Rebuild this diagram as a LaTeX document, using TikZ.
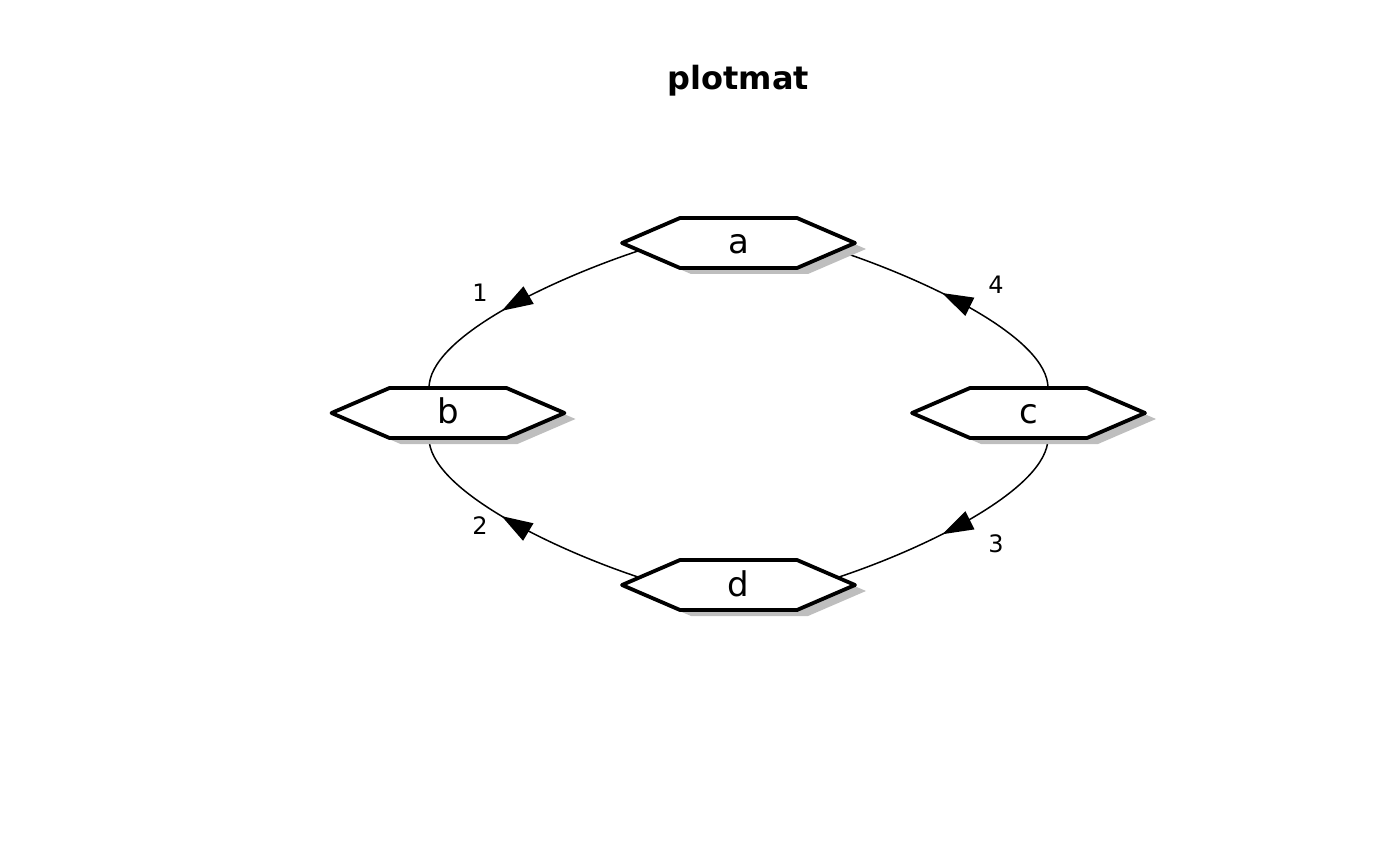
\documentclass[tikz,border=0pt]{standalone}
\usepackage{fontspec}
\setmainfont{DejaVu Sans}
\usetikzlibrary{arrows.meta,decorations.markings,calc}
\pgfdeclarelayer{edgelayer}
\pgfdeclarelayer{shapelayer}
\pgfsetlayers{edgelayer,shapelayer,main}
\definecolor{shadowgray}{RGB}{190,190,190}
\tikzset{
  hexnode/.style={rectangle, minimum width=233pt, minimum height=50pt, inner sep=0pt,
    text height=22pt, text depth=0pt, font=\fontsize{34}{36}\selectfont},
  conn/.style={line width=1.5pt, postaction={decorate},
    decoration={markings, mark=at position #1 with {\arrow{Triangle[length=31pt,width=20pt]}}}},
  conn/.default=0.5,
  elabel/.style={font=\fontsize{24}{26}\selectfont},
  hexline/.style={line width=3.8pt, fill=white, line join=round},
  shadowfill/.style={fill=shadowgray},
  titletext/.style={font=\fontsize{32}{38}\selectfont\bfseries, anchor=base},
}
\begin{document}
\begin{tikzpicture}[x=1pt,y=-1pt]
\useasboundingbox (0,0) rectangle (1400,866);
\node[titletext] (title) at (738.5,89.5) {plotmat};
\node[hexnode] (a) at (738.5,243) {a};
\node[hexnode] (b) at (448,413) {b};
\node[hexnode] (c) at (1028.5,413) {c};
\node[hexnode] (d) at (738.5,585) {d};
\begin{pgfonlayer}{shapelayer}
\foreach \n in {a,b,c,d}{
  \fill[shadowfill, shift={($(\n)+(11,6)$)}] (-116.5,0) -- (-58.5,-25) -- (58.5,-25) -- (116.5,0) -- (58.5,25) -- (-58.5,25) -- cycle;
  \draw[hexline, shift={(\n)}] (-116.5,0) -- (-58.5,-25) -- (58.5,-25) -- (116.5,0) -- (58.5,25) -- (-58.5,25) -- cycle;
}
\end{pgfonlayer}
\begin{pgfonlayer}{edgelayer}
\draw[conn=0.575] ($(a)+(-100.5,8)$) .. controls ($(a)+(-190.5,38)$) and ($(b)+(-19,-75)$) .. ($(b)+(-19,-25)$);
\draw[conn=0.575] ($(d)+(-100.5,-8)$) .. controls ($(d)+(-190.5,-38)$) and ($(b)+(-19,75)$) .. ($(b)+(-19,25)$);
\draw[conn=0.57] ($(c)+(19.5,25)$) .. controls ($(c)+(19.5,75)$) and ($(d)+(190.5,-38)$) .. ($(d)+(100.5,-8)$);
\draw[conn=0.57] ($(c)+(19.5,-25)$) .. controls ($(c)+(19.5,-75)$) and ($(a)+(190.5,38)$) .. ($(a)+(100.5,8)$);
\end{pgfonlayer}
\node[elabel] (l1) at (480,293) {1};
\node[elabel] (l2) at (480,526) {2};
\node[elabel] (l3) at (996,544) {3};
\node[elabel] (l4) at (996,285) {4};
\end{tikzpicture}
\end{document}
